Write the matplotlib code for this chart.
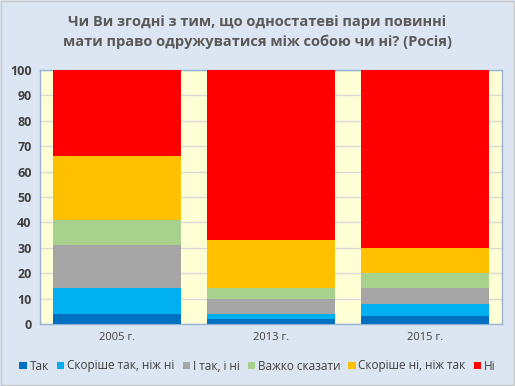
import numpy as np
import matplotlib
matplotlib.use("Agg")
import matplotlib.pyplot as plt
from matplotlib.patches import Rectangle

plt.rcParams['font.family'] = ['Open Sans', 'DejaVu Sans']

years = ["2005 г.", "2013 г.", "2015 г."]
series = ["Так", "Скоріше так, ніж ні", "І так, і ні", "Важко сказати",
          "Скоріше ні, ніж так", "Ні"]
tak = [4, 2, 3]
skorishe_tak = [10, 2, 5]
i_tak_i_ni = [17, 6, 6]
vazhko = [10, 4, 6]
skorishe_ni = [25, 19, 10]
ni = [34, 67, 70]
values = [tak, skorishe_tak, i_tak_i_ni, vazhko, skorishe_ni, ni]
colors = ["#0070c0", "#00b0f0", "#a5a5a5", "#a9d18e", "#ffc000", "#ff0000"]

fig = plt.figure(figsize=(5.15, 3.86), dpi=100)
fig.patch.set_facecolor("#dce6f2")
fig.patches.append(Rectangle((0.002, 0.002), 0.996, 0.996, transform=fig.transFigure,
                             fill=False, edgecolor="#c8c8c8", lw=1))
ax = fig.add_axes([40 / 515, 62 / 386, 462 / 515, 254 / 386])
ax.set_facecolor("#ffffd5")

x = np.arange(len(years))
bottom = np.zeros(len(years))
for name, vals, col in zip(series, values, colors):
    ax.bar(x, vals, bottom=bottom, width=0.83, color=col, label=name, zorder=3)
    bottom += np.array(vals)

ax.set_xlim(-0.5, 2.5)
ax.set_ylim(0, 100)
ax.set_yticks(range(0, 101, 10))
ax.grid(axis="y", color="#d9d9d9", lw=1, zorder=0)
ax.set_xticks(x)
ax.set_xticklabels(years, fontsize=8, color="#404040")
ax.tick_params(axis="y", labelsize=9, labelcolor="#404040", length=0, pad=6)
ax.tick_params(axis="x", length=0, pad=6)
for lab in ax.get_yticklabels():
    lab.set_fontweight("bold")
for s in ax.spines.values():
    s.set_color("#95b3d7")
    s.set_linewidth(1)

fig.text(0.5, 1 - 32 / 386,
         "Чи Ви згодні з тим, що одностатеві пари повинні\nмати право одружуватися між собою чи ні? (Росія)",
         ha="center", va="center", fontsize=10.5, fontweight="bold", color="#595959",
         linespacing=1.45)

fig.legend(loc="center", bbox_to_anchor=(0.5, 1 - 366 / 386), ncol=6, frameon=False,
           fontsize=8.5, handlelength=0.6, handleheight=0.6, handletextpad=0.25,
           columnspacing=0.7, labelcolor="#404040")

fig.savefig("out.png", dpi=100, facecolor=fig.get_facecolor())
